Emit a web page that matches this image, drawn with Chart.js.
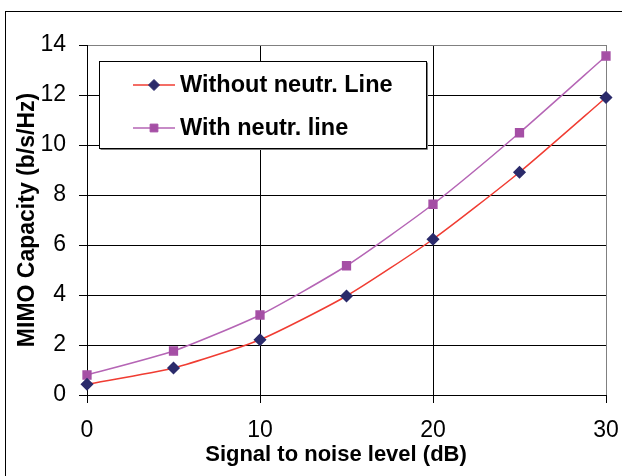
<!DOCTYPE html>
<html>
<head>
<meta charset="utf-8">
<script src="https://cdn.jsdelivr.net/npm/chart.js@4"></script>
<style>
  html, body { margin: 0; padding: 0; background: #fff; }
  #wrap { width: 622px; height: 476px; }
</style>
</head>
<body>
<div id="wrap"><canvas id="myChart" width="622" height="476"></canvas></div>
<script>
const snr = [0, 5, 10, 15, 20, 25, 30];
const withoutLine = [0.43, 1.08, 2.21, 3.96, 6.23, 8.91, 11.9];
const withLine = [0.8, 1.76, 3.2, 5.17, 7.63, 10.49, 13.56];
const seriesNames = ["Without neutr. Line", "With neutr. line"];
const xTicks = [0, 10, 20, 30];
const yTicks = [0, 2, 4, 6, 8, 10, 12, 14];
const xTitle = "Signal to noise level (dB)";

const FONT = "'Liberation Sans', Arial, sans-serif";

const toPoints = (xs, ys) => xs.map((x, i) => ({ x: x, y: ys[i] }));

// frame around the whole figure, x title and the legend box inside the plot
const framePlugin = {
  id: "frame",
  afterDraw(chart) {
    const ctx = chart.ctx;
    ctx.save();
    ctx.strokeStyle = "#000";
    ctx.lineWidth = 1;
    ctx.strokeRect(5.5, 11.5, 800, 800);

    ctx.fillStyle = "#000";
    ctx.font = "bold 22px " + FONT;
    ctx.textAlign = "center";
    ctx.textBaseline = "middle";
    ctx.fillText(xTitle, 336, 455);

    // legend
    const bx = 99.5, by = 61.5, bw = 327, bh = 87;
    ctx.fillStyle = "#fff";
    ctx.fillRect(bx, by, bw, bh);
    ctx.strokeStyle = "#808080";
    ctx.beginPath();
    ctx.moveTo(bx + 1, by + bh + 1);
    ctx.lineTo(bx + bw + 1, by + bh + 1);
    ctx.lineTo(bx + bw + 1, by + 1);
    ctx.stroke();
    ctx.strokeStyle = "#000";
    ctx.strokeRect(bx, by, bw, bh);

    const rows = [85, 128];
    chart.data.datasets.forEach((ds, i) => {
      const y = rows[i];
      ctx.strokeStyle = ds.borderColor;
      ctx.lineWidth = 1.5;
      ctx.beginPath();
      ctx.moveTo(133, y);
      ctx.lineTo(175, y);
      ctx.stroke();
      ctx.fillStyle = ds.pointBackgroundColor;
      ctx.strokeStyle = ds.pointBorderColor;
      ctx.lineWidth = 1;
      Chart.helpers.drawPoint(ctx, {
        pointStyle: ds.pointStyle,
        radius: ds.pointRadius,
        borderWidth: 1
      }, 154, y);
      ctx.fillStyle = "#000";
      ctx.font = "bold 23.5px " + FONT;
      ctx.textBaseline = "middle";
      ctx.textAlign = "left";
      ctx.fillText(ds.label, 180, y + 1);
    });
    ctx.restore();
  }
};

const ctx = document.getElementById("myChart").getContext("2d");
const myChart = new Chart(ctx, {
  type: "line",
  data: {
    datasets: [
      {
        label: seriesNames[0],
        data: toPoints(snr, withoutLine),
        borderColor: "#F03C32",
        backgroundColor: "#2B2B6B",
        pointBackgroundColor: "#2B2B6B",
        pointBorderColor: "#2B2B6B",
        pointStyle: "rectRot",
        pointRadius: 5.5,
        borderWidth: 1.5,
        tension: 0.2
      },
      {
        label: seriesNames[1],
        data: toPoints(snr, withLine),
        borderColor: "#B565B5",
        backgroundColor: "#A54FA5",
        pointBackgroundColor: "#A54FA5",
        pointBorderColor: "#A54FA5",
        pointStyle: "rect",
        pointRadius: 5.5,
        borderWidth: 1.5,
        tension: 0.2
      }
    ]
  },
  options: {
    responsive: false,
    animation: false,
    clip: false,
    layout: { padding: { left: 0, top: 45, right: 16, bottom: 0 } },
    plugins: {
      legend: { display: false },
      tooltip: { enabled: false }
    },
    scales: {
      x: {
        type: "linear",
        min: 0,
        max: 30,
        afterFit(scale) {
          scale.height = 81;
          scale.paddingLeft = 0;
          scale.paddingRight = 0;
        },
        afterBuildTicks(scale) { scale.ticks = xTicks.map(v => ({ value: v })); },
        ticks: {
          color: "#000",
          font: { family: FONT, size: 23 },
          padding: 14
        },
        grid: {
          color: c => (c.tick && c.tick.value === 30 ? "#808080" : "#000"),
          tickLength: 8,
          tickColor: "#000"
        },
        border: { color: "#000", width: 1 }
      },
      y: {
        min: 0,
        max: 14,
        afterFit(scale) { scale.width = 87; },
        afterBuildTicks(scale) { scale.ticks = yTicks.map(v => ({ value: v })); },
        ticks: {
          color: "#000",
          font: { family: FONT, size: 23 },
          padding: 13
        },
        grid: {
          color: c => (c.tick && c.tick.value === 14 ? "#808080" : "#000"),
          tickLength: 8,
          tickColor: "#000"
        },
        border: { color: "#000", width: 1 },
        title: {
          display: true,
          text: "MIMO Capacity (b/s/Hz)",
          color: "#000",
          font: { family: FONT, size: 23, weight: "bold" },
          padding: { top: 14, bottom: 0 }
        }
      }
    }
  },
  plugins: [framePlugin]
});
</script>
</body>
</html>
